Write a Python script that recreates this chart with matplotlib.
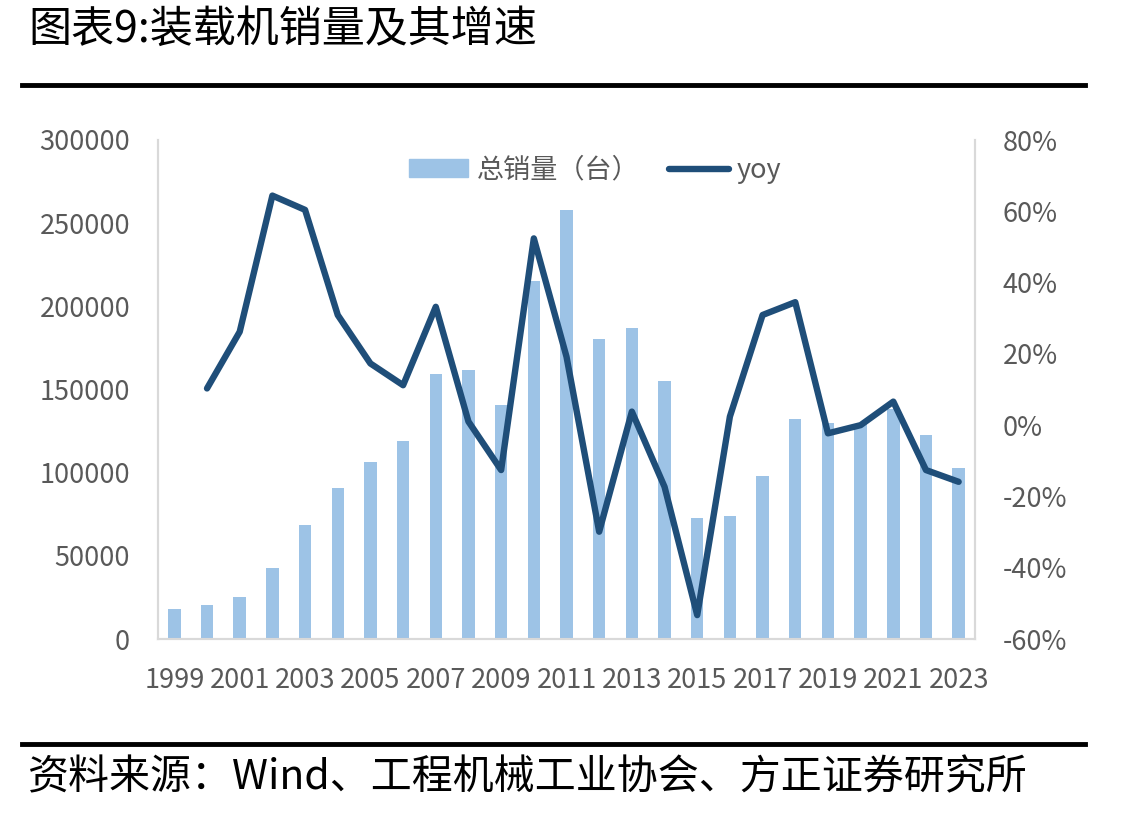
import matplotlib.pyplot as plt
import numpy as np
from matplotlib.lines import Line2D
from matplotlib.patches import Patch
from matplotlib.ticker import FuncFormatter

plt.rcParams['font.family'] = ['Noto Sans CJK SC', 'DejaVu Sans']

COLOR_BAR = "#9dc3e6"
COLOR_LINE = "#1f4e79"
COLOR_TEXT = "#595959"
COLOR_SPINE = "#d9d9d9"

years = list(range(1999, 2024))
sales = [18000, 20400, 25400, 42500, 68500, 90600, 106200, 119200, 159300,
         161700, 140500, 215400, 257900, 180400, 187000, 155300, 72500,
         74100, 98000, 132300, 129700, 129000, 138000, 122600, 103000]
yoy = [np.nan, 10.3, 26.2, 64.4, 60.4, 30.9, 17.3, 11.2, 33.2, 1.0, -12.6,
       52.4, 19.2, -29.9, 3.8, -17.3, -53.3, 2.4, 30.9, 34.5, -2.3, 0.0,
       6.6, -12.6, -15.9]
year_labels = [str(y) if (y - 1999) % 2 == 0 else "" for y in years]

fig = plt.figure(figsize=(11.3, 8.14), dpi=100)
ax = fig.add_axes([158 / 1130, 1 - 639 / 814, (975 - 158) / 1130, (639 - 140) / 814])
ax2 = ax.twinx()

x = np.arange(len(years))
ax.bar(x, sales, width=0.38, color=COLOR_BAR, zorder=2)
ax2.plot(x, yoy, color=COLOR_LINE, linewidth=4.6, solid_joinstyle="round",
         solid_capstyle="round", zorder=3)

ax.set_xlim(-0.5, len(years) - 0.5)
ax.set_ylim(0, 300000)
ax.set_yticks(np.arange(0, 300001, 50000))
ax2.set_ylim(-60, 80)
ax2.set_yticks(np.arange(-60, 81, 20))
ax2.yaxis.set_major_formatter(FuncFormatter(lambda v, p: f"{v:.0f}%"))
ax.set_xticks(x)
ax.set_xticklabels(year_labels)

for a in (ax, ax2):
    a.tick_params(length=0, labelsize=19.5, labelcolor=COLOR_TEXT)
    for s in a.spines.values():
        s.set_color(COLOR_SPINE)
        s.set_linewidth(1.5)
    a.spines["top"].set_visible(False)
ax.tick_params(axis="y", pad=20)
ax.tick_params(axis="x", pad=20)
ax2.tick_params(axis="y", pad=20)
ax2.set_zorder(ax.get_zorder() + 1)
ax2.patch.set_visible(False)

handles = [Patch(color=COLOR_BAR, label="总销量（台）"),
           Line2D([0], [0], color=COLOR_LINE, linewidth=4.6,
                  solid_capstyle="round", label="yoy")]
leg = ax2.legend(handles=handles, loc="upper center", bbox_to_anchor=(0.535, 1.015),
                 ncol=2, frameon=False, fontsize=19.5, handlelength=2.2,
                 handleheight=0.65, handletextpad=0.3, columnspacing=1.1)
for t in leg.get_texts():
    t.set_color(COLOR_TEXT)

fig.text(28 / 1130, 1 - 30 / 814, "图表9:装载机销量及其增速", fontsize=31,
         va="center", ha="left", color="black")
fig.add_artist(Line2D([22 / 1130, 1085 / 1130], [1 - 85 / 814, 1 - 85 / 814],
                      color="black", linewidth=3.5))
fig.add_artist(Line2D([22 / 1130, 1085 / 1130], [1 - 744 / 814, 1 - 744 / 814],
                      color="black", linewidth=3.5))
fig.text(28 / 1130, 1 - 778 / 814, "资料来源：Wind、工程机械工业协会、方正证券研究所",
         fontsize=29.5, va="center", ha="left", color="black")

fig.savefig("out.png", dpi=100)
